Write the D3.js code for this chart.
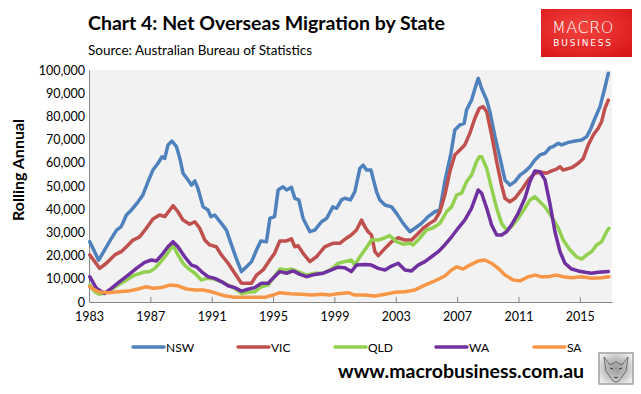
<!DOCTYPE html>
<html>
<head>
<meta charset="utf-8">
<script src="https://cdn.jsdelivr.net/npm/d3@7"></script>
<style>
  body { margin: 0; background: #fff; }
  svg { display: block; font-family: Lato, "Open Sans", sans-serif; }
</style>
</head>
<body>
<svg id="chart" width="641" height="394"></svg>
<script>
// readings: [year, persons]
var nsw = [[1983.05,26000],[1983.63,18000],[1984.46,27400],[1984.8,31000],[1985.1,32500],[1985.44,37500],[1985.77,39700],[1986.2,43200],[1986.5,46000],[1986.85,51900],[1987.17,56900],[1987.5,59800],[1987.76,62600],[1987.94,61900],[1988.15,67700],[1988.41,69400],[1988.7,67000],[1988.92,62000],[1989.13,55500],[1989.46,52600],[1989.68,50400],[1989.9,52200],[1990.1,49000],[1990.44,41000],[1990.76,39700],[1990.94,36800],[1991.2,37500],[1991.63,33900],[1991.96,31000],[1992.29,24600],[1992.6,18800],[1992.94,13100],[1993.27,15200],[1993.6,17400],[1993.92,22400],[1994.2,26300],[1994.57,26000],[1994.79,36000],[1995.1,36800],[1995.33,48300],[1995.65,49700],[1995.88,48300],[1996.2,49400],[1996.42,44700],[1996.68,44000],[1996.96,36000],[1997.4,30300],[1997.72,31000],[1998.16,34600],[1998.49,36000],[1998.9,41000],[1999.14,40400],[1999.46,44000],[1999.68,44700],[2000.05,44000],[2000.33,47500],[2000.66,57600],[2000.87,59000],[2001.1,56900],[2001.38,56900],[2001.75,47500],[2001.96,44000],[2002.3,41800],[2002.73,41000],[2003.05,38200],[2003.48,33900],[2003.92,30300],[2004.25,31800],[2004.68,33900],[2005.11,36800],[2005.55,38900],[2005.88,39700],[2006.2,51900],[2006.6,64100],[2006.85,74100],[2007.18,76300],[2007.46,77000],[2007.62,82800],[2007.94,87000],[2008.27,94300],[2008.38,96400],[2008.6,92000],[2008.93,87000],[2009.14,82000],[2009.47,71300],[2009.8,62000],[2010.12,52600],[2010.44,50400],[2010.77,51900],[2011.1,54700],[2011.42,56200],[2011.75,58300],[2012.07,61200],[2012.4,63400],[2012.73,64100],[2013.05,66500],[2013.27,67000],[2013.6,68400],[2013.82,67700],[2014.25,68800],[2014.69,69400],[2015.12,69800],[2015.45,71300],[2015.73,74900],[2015.99,79200],[2016.32,84200],[2016.6,91400],[2016.86,98600]];
var vic = [[1983.05,20300],[1983.7,14500],[1984.13,16700],[1984.68,20300],[1985.1,21700],[1985.44,23800],[1985.87,26700],[1986.3,28100],[1986.74,31800],[1987.17,35800],[1987.6,37500],[1987.94,36800],[1988.48,41500],[1988.8,38900],[1989.13,35300],[1989.57,33500],[1989.9,34600],[1990.22,31800],[1990.55,26700],[1990.87,24600],[1991.3,23800],[1991.63,20300],[1992.07,16700],[1992.5,12400],[1992.94,8100],[1993.6,8100],[1993.92,11600],[1994.35,13800],[1994.79,18100],[1995.1,21000],[1995.44,26300],[1995.88,26300],[1996.2,27200],[1996.42,23800],[1996.63,24300],[1996.96,21000],[1997.4,17400],[1997.83,19500],[1998.37,23800],[1998.9,25300],[1999.35,25300],[1999.78,27500],[2000.1,28900],[2000.44,31000],[2000.77,35300],[2000.98,32500],[2001.2,30300],[2001.42,28900],[2001.64,21700],[2001.86,20000],[2002.3,23100],[2002.73,26000],[2003.16,27700],[2003.6,26700],[2004.03,26700],[2004.36,28900],[2004.79,31800],[2005.22,33900],[2005.55,35300],[2005.88,38900],[2006.2,46100],[2006.53,56200],[2006.85,63400],[2007.18,65500],[2007.5,67700],[2007.83,72700],[2008.16,79200],[2008.45,83500],[2008.7,84200],[2008.93,82000],[2009.25,72000],[2009.58,60500],[2009.9,50400],[2010.12,44700],[2010.44,43200],[2010.77,44700],[2011.2,48300],[2011.64,52600],[2012.07,55500],[2012.51,55900],[2012.84,55500],[2013.16,56500],[2013.49,57300],[2013.71,58300],[2013.92,56900],[2014.47,57900],[2014.9,59800],[2015.23,61900],[2015.55,67700],[2015.88,72000],[2016.2,74900],[2016.42,77700],[2016.64,83500],[2016.86,87000]];
var qld = [[1983.05,7300],[1983.37,4400],[1983.7,3300],[1984.24,4400],[1984.89,7300],[1985.44,9500],[1985.98,11600],[1986.52,12800],[1986.96,13100],[1987.29,14500],[1987.6,16700],[1988.05,20300],[1988.48,24600],[1988.8,20300],[1989.13,16700],[1989.46,14500],[1989.9,12400],[1990.33,9500],[1990.66,10200],[1991.1,10000],[1991.63,8800],[1992.07,7300],[1992.5,5900],[1992.94,3700],[1993.37,4200],[1993.8,4400],[1994.24,6600],[1994.68,7300],[1995.0,10200],[1995.44,14200],[1995.88,13800],[1996.2,14200],[1996.63,13100],[1997.18,11600],[1997.72,12400],[1998.27,12400],[1998.81,14200],[1999.24,16700],[1999.68,17400],[2000.1,18100],[2000.33,15900],[2000.66,19500],[2000.98,22400],[2001.42,26700],[2001.85,26700],[2002.3,27700],[2002.6,28600],[2003.05,26000],[2003.48,24900],[2003.92,25300],[2004.13,24600],[2004.57,27500],[2005.0,31000],[2005.44,32000],[2005.88,33900],[2006.31,38900],[2006.64,41000],[2006.97,46100],[2007.29,46900],[2007.62,51900],[2007.94,54700],[2008.27,60500],[2008.45,62600],[2008.6,62600],[2008.93,57600],[2009.25,49000],[2009.58,40400],[2009.9,33900],[2010.23,31000],[2010.55,32500],[2010.98,36000],[2011.42,40400],[2011.75,44000],[2012.07,45400],[2012.4,43200],[2012.73,41000],[2013.16,36800],[2013.6,31800],[2013.92,26700],[2014.36,22400],[2014.79,19500],[2015.12,18500],[2015.45,20300],[2015.77,21700],[2016.1,24600],[2016.42,26000],[2016.75,30300],[2016.9,31800]];
var wa = [[1983.05,10900],[1983.48,5900],[1984.02,3700],[1984.46,5900],[1985.0,8800],[1985.55,11600],[1986.09,14500],[1986.63,17100],[1987.07,18100],[1987.4,17700],[1987.83,21000],[1988.15,23800],[1988.48,26000],[1988.8,23800],[1989.24,19500],[1989.68,15900],[1990.0,15200],[1990.33,13100],[1990.76,10900],[1991.2,10200],[1991.63,8800],[1992.07,7000],[1992.5,6200],[1992.94,4700],[1993.37,5500],[1993.8,6200],[1994.24,8100],[1994.68,8100],[1995.0,10200],[1995.44,13100],[1995.88,12400],[1996.31,13400],[1996.75,11900],[1997.18,10900],[1997.72,11900],[1998.27,12400],[1998.81,13800],[1999.24,15000],[1999.68,14800],[2000.1,13100],[2000.44,15900],[2000.98,16200],[2001.42,15900],[2001.85,14500],[2002.3,13800],[2002.73,15500],[2003.16,16700],[2003.6,13800],[2004.03,13400],[2004.46,15900],[2004.9,17400],[2005.33,19500],[2005.77,21700],[2006.2,24600],[2006.64,28100],[2007.07,31800],[2007.5,35300],[2007.94,40400],[2008.38,48300],[2008.6,46900],[2008.93,40400],[2009.25,33200],[2009.58,28900],[2009.9,28900],[2010.23,30300],[2010.55,33200],[2010.98,38200],[2011.42,44700],[2011.75,51900],[2012.07,56500],[2012.4,56200],[2012.73,52600],[2013.05,42500],[2013.38,30300],[2013.71,21700],[2014.03,16700],[2014.47,14200],[2014.9,13400],[2015.34,12800],[2015.77,12400],[2016.2,12800],[2016.86,13100]];
var sa = [[1983.05,6600],[1983.6,4400],[1984.24,4000],[1984.89,4400],[1985.55,4700],[1986.2,5600],[1986.74,6600],[1987.17,5900],[1987.72,6200],[1988.26,7300],[1988.8,7000],[1989.35,5600],[1989.9,5200],[1990.44,5200],[1990.98,4400],[1991.52,3300],[1991.85,2700],[1992.5,2000],[1993.37,2000],[1994.46,2000],[1995.0,3000],[1995.44,4000],[1996.09,3600],[1996.85,3300],[1997.5,3000],[1998.16,3300],[1998.7,3000],[1999.24,3600],[1999.9,4000],[2000.33,3000],[2000.98,3000],[2001.64,2600],[2002.3,3300],[2002.95,4200],[2003.6,4400],[2004.25,5200],[2004.9,7300],[2005.55,9100],[2006.2,11200],[2006.64,13800],[2006.97,15200],[2007.4,14200],[2007.83,15900],[2008.38,17700],[2008.8,18100],[2009.25,16700],[2009.68,14500],[2010.12,11600],[2010.66,9500],[2011.1,9100],[2011.64,10900],[2012.07,11600],[2012.51,10900],[2012.94,10900],[2013.49,11600],[2013.92,10900],[2014.47,10500],[2015.12,10900],[2015.77,10200],[2016.42,10500],[2016.9,10900]];

var seriesNames = ["NSW", "VIC", "QLD", "WA", "SA"];
var seriesData = [nsw, vic, qld, wa, sa];
var colors = ["#4f81bd", "#c0504d", "#92d050", "#7030a0", "#f79646"];
var yearTicks = [1983, 1987, 1991, 1995, 1999, 2003, 2007, 2011, 2015];
var valueTicks = [0, 10000, 20000, 30000, 40000, 50000, 60000, 70000, 80000, 90000, 100000];

var svg = d3.select("#chart");
var margin = {left: 89, top: 70, right: 29, bottom: 92};
var width = 641 - margin.left - margin.right;
var height = 394 - margin.top - margin.bottom;

var x = d3.scaleLinear().domain([1983, 2017.1]).range([0, width]);
var y = d3.scaleLinear().domain([0, 100000]).range([height, 0]);

// titles
svg.append("text")
    .attr("x", 88).attr("y", 30)
    .attr("font-size", "19.5px").attr("font-weight", "bold").attr("fill", "#000")
    .text("Chart 4: Net Overseas Migration by State");
svg.append("text")
    .attr("x", 88).attr("y", 55)
    .attr("font-size", "13.5px").attr("fill", "#000")
    .text("Source: Australian Bureau of Statistics");

// logo
var defs = svg.append("defs");
var grad = defs.append("radialGradient").attr("id", "logoGrad")
    .attr("cx", "45%").attr("cy", "40%").attr("r", "70%");
grad.append("stop").attr("offset", "0%").attr("stop-color", "#f4453f");
grad.append("stop").attr("offset", "100%").attr("stop-color", "#d9181c");
svg.append("rect").attr("x", 541).attr("y", 9).attr("width", 91).attr("height", 48)
    .attr("fill", "url(#logoGrad)");
svg.append("text").attr("x", 583).attr("y", 33).attr("text-anchor", "middle")
    .attr("font-family", "'DejaVu Sans', sans-serif").attr("font-weight", 200)
    .attr("font-size", "16px").attr("fill", "#fff").attr("letter-spacing", "0.5px")
    .text("MACRO");
svg.append("text").attr("x", 583).attr("y", 46).attr("text-anchor", "middle")
    .attr("font-family", "'DejaVu Sans', sans-serif")
    .attr("font-size", "9px").attr("fill", "#fff").attr("letter-spacing", "1.8px")
    .text("BUSINESS");

var g = svg.append("g").attr("transform", "translate(" + margin.left + "," + margin.top + ")");

g.append("rect").attr("width", width).attr("height", height).attr("fill", "#f2f2f2");

// y axis
var yAxis = g.append("g")
    .call(d3.axisLeft(y).tickValues(valueTicks).tickFormat(d3.format(",")).tickSize(0).tickPadding(4));
yAxis.select(".domain").attr("stroke", "#868686");
yAxis.selectAll("text").attr("font-size", "12.5px").attr("fill", "#000").attr("font-family", "Lato, sans-serif");

// x axis, ticks pointing up into the plot
var xAxis = g.append("g").attr("transform", "translate(0," + height + ")")
    .call(d3.axisBottom(x).tickValues(yearTicks).tickFormat(d3.format("d")).tickSizeInner(-5).tickSizeOuter(0).tickPadding(10));
xAxis.select(".domain").attr("stroke", "#868686");
xAxis.selectAll(".tick line").attr("stroke", "#868686");
xAxis.selectAll("text").attr("font-size", "12.5px").attr("fill", "#000").attr("font-family", "Lato, sans-serif");

svg.append("text")
    .attr("transform", "translate(24,170) rotate(-90)")
    .attr("text-anchor", "middle")
    .attr("font-size", "16px").attr("font-weight", "bold").attr("fill", "#000")
    .text("Rolling Annual");

var line = d3.line()
    .x(function(d) { return x(d[0]); })
    .y(function(d) { return y(d[1]); });

for (let i = 0; i < seriesData.length; i++) {
  g.append("path")
      .datum(seriesData[i])
      .attr("fill", "none")
      .attr("stroke", colors[i])
      .attr("stroke-width", 3.5)
      .attr("stroke-linejoin", "round")
      .attr("stroke-linecap", "round")
      .attr("d", line);
}

// legend
var legendX = [133, 238, 335, 436, 534];
var legend = svg.append("g");
seriesNames.forEach(function(name, i) {
  legend.append("line")
      .attr("x1", legendX[i]).attr("x2", legendX[i] + 31)
      .attr("y1", 347).attr("y2", 347)
      .attr("stroke", colors[i]).attr("stroke-width", 3.5).attr("stroke-linecap", "round");
  legend.append("text")
      .attr("x", legendX[i] + 33).attr("y", 351.5)
      .attr("font-size", "12px").attr("fill", "#000")
      .text(name);
});

// footer
svg.append("text")
    .attr("x", 338).attr("y", 378)
    .attr("font-size", "19.5px").attr("font-weight", "bold").attr("fill", "#000")
    .text("www.macrobusiness.com.au");

// small grey wolf badge
var wolf = svg.append("g").attr("transform", "translate(599,353)");
var wg = defs.append("radialGradient").attr("id", "wolfGrad").attr("cx", "50%").attr("cy", "50%").attr("r", "60%");
wg.append("stop").attr("offset", "0%").attr("stop-color", "#9a9a9a");
wg.append("stop").attr("offset", "60%").attr("stop-color", "#c4c4c4");
wg.append("stop").attr("offset", "100%").attr("stop-color", "#f0f0f0");
wolf.append("rect").attr("width", 34).attr("height", 31)
    .attr("fill", "url(#wolfGrad)").attr("stroke", "#a0a0a0").attr("stroke-width", 1.5);
wolf.append("path").attr("d", "M5,4 L11,12 L17,9 L23,12 L29,4 L27,18 L20,28 L17,29 L14,28 L7,18 Z")
    .attr("fill", "none").attr("stroke", "#555").attr("stroke-width", 0.8);
wolf.append("path").attr("d", "M11,15 L14,16 M20,16 L23,15 M15,24 L17,25 L19,24")
    .attr("fill", "none").attr("stroke", "#333").attr("stroke-width", 1);
</script>
</body>
</html>
